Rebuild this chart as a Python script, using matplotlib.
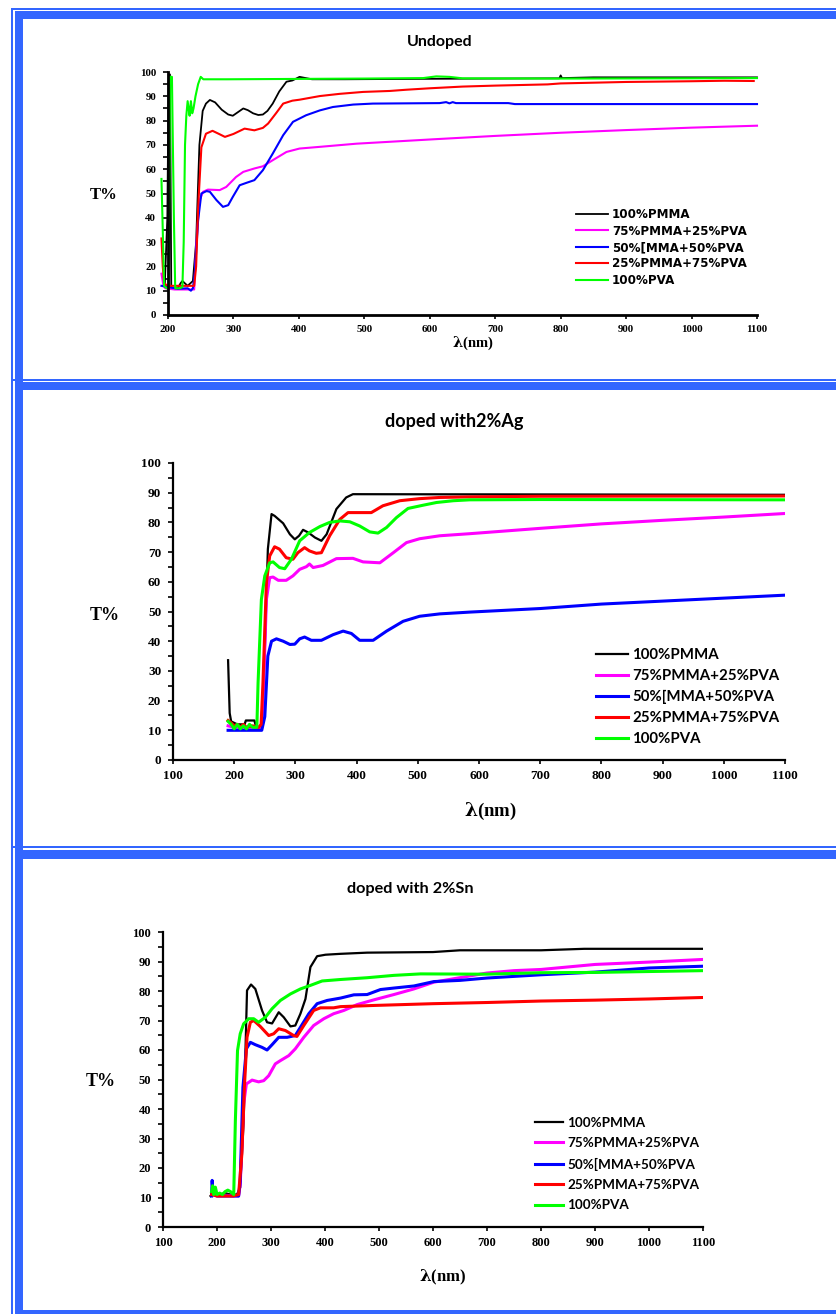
import numpy as np
import matplotlib
matplotlib.use("Agg")
import matplotlib.pyplot as plt
from matplotlib.patches import Rectangle
from matplotlib.ticker import MultipleLocator

# ---- series labels / colours ----
labels = ['100%PMMA', '75%PMMA+25%PVA', '50%[MMA+50%PVA', '25%PMMA+75%PVA', '100%PVA']
colors = ['#000000', '#ff00ff', '#0000ff', '#ff0000', '#00ff00']

# ---- undoped ----
u_wl_pmma = [195, 199, 201, 203, 205, 210, 215, 219, 222, 226, 230, 234, 238, 243, 248, 253, 258, 264, 272, 282,
             292, 299, 307, 315, 322, 330, 338, 345, 352, 360, 370, 381, 390, 401, 420, 470, 600, 700, 798, 800,
             802, 850, 1000, 1100]
u_T_pmma = [12, 40, 99, 99, 11, 11, 11, 13, 14, 13, 12, 13, 14, 30, 70, 84, 87, 88.5, 87.5, 84.5,
            82.5, 82, 83.5, 85, 84.3, 83, 82.3, 82.5, 84, 87, 92, 96, 96.5, 98, 97, 97, 97.2, 97.3, 97.4, 98.6,
            97.5, 97.8, 97.8, 97.8]
u_wl_75 = [190, 193, 196, 210, 240, 243, 248, 253.5, 261, 279, 289, 304, 315, 332, 345, 360, 381, 401, 432, 488,
           605, 700, 800, 900, 1000, 1100]
u_T_75 = [17, 12, 11, 10.5, 10.5, 28, 47, 50.7, 51.6, 51.4, 52.7, 56.8, 58.9, 60.3, 61.2, 63.7, 67.1, 68.5, 69.2, 70.5,
          72.3, 73.7, 75, 76.1, 77.1, 77.9]
u_wl_50 = [190, 200, 215, 230, 235, 238, 241, 246, 251, 259, 264, 274, 284, 292, 299, 309.5, 320, 332, 345, 360,
           376, 391, 411, 432, 452, 483, 513, 615, 625, 630, 635, 640, 720, 730, 1100]
u_T_50 = [12, 11.5, 10.8, 11, 10, 11, 17, 39, 50, 51, 50.7, 47.3, 44.5, 45.2, 48.6, 53.4, 54.4, 55.5, 59.6, 66.4,
          74, 79.5, 82.2, 84.2, 85.6, 86.6, 87, 87.2, 87.6, 87.1, 87.6, 87.2, 87.2, 86.8, 86.8]
u_wl_25 = [190, 192, 194, 200, 240, 243, 246, 251, 258, 268, 278, 287, 300, 317, 332, 345, 353, 365, 376, 390,
           401, 432, 462, 498, 539, 564, 600, 650, 700, 780, 800, 900, 1000, 1050, 1095]
u_T_25 = [31.5, 20, 13, 12, 12, 20, 44, 69, 74.6, 75.8, 74.5, 73.3, 74.5, 76.7, 76, 77, 78.8, 83, 87, 88.2,
          88.6, 90.1, 91, 91.8, 92.2, 92.7, 93.3, 94, 94.4, 94.9, 95.3, 95.9, 96.2, 96.4, 96.3]
u_wl_pva = [190, 192, 194, 198, 201, 203, 206, 209, 211, 218, 222, 224, 226, 228, 230, 232, 233, 235, 237, 239,
            242, 246, 250, 254, 290, 500, 590, 610, 630, 650, 800, 1000, 1100]
u_T_pva = [56, 35, 12, 11, 11, 98, 98, 40, 11, 11, 11.5, 30, 70, 82, 88, 84, 82, 88, 83, 85,
           90, 95, 98, 97, 97, 97.3, 97.5, 98.2, 98, 97.4, 97.3, 97.4, 97.5]

# ---- doped with 2% Ag ----
ag_wl_pmma = [190, 192.6, 195, 205, 217, 219, 233, 236, 245, 250, 255, 261, 266, 280, 291, 299, 306, 312.5, 321, 332,
              342.5, 351, 367, 383, 394, 1100]
ag_T_pmma = [33.6, 15.8, 13, 12, 12, 13.3, 13.3, 11, 11, 37, 71, 82.8, 82.2, 79.7, 76, 74.3, 75.5, 77.5, 76.6, 74.9,
             73.8, 76, 84.5, 88.4, 89.5, 89.3]
ag_wl_75 = [190, 200, 245, 248, 252.6, 258, 263.5, 272, 285, 296, 307, 318, 323, 329, 345, 367, 394, 410.6, 438, 460,
            481.5, 503, 536, 585, 700, 800, 900, 1000, 1100]
ag_T_75 = [11.5, 11, 11, 25, 54, 61.4, 61.6, 60.5, 60.5, 62, 64.2, 65.1, 66, 64.8, 65.5, 67.8, 67.9, 66.7, 66.4, 69.8,
           73.2, 74.5, 75.5, 76.2, 78, 79.5, 80.7, 81.8, 83]
ag_wl_50 = [190, 245, 250, 255, 261, 269, 280, 291, 299, 307, 315, 326, 342.5, 361.6, 378, 391.5, 405, 427, 449, 476,
            503, 536, 585, 700, 800, 900, 1000, 1100]
ag_T_50 = [10, 10, 14.6, 35, 40, 40.8, 40, 38.9, 39, 40.8, 41.4, 40.3, 40.3, 42.2, 43.4, 42.6, 40.3, 40.3, 43.4, 46.7,
           48.4, 49.2, 49.8, 51, 52.5, 53.5, 54.5, 55.5]
ag_wl_25 = [190, 195, 200, 205, 210, 215, 220, 230, 240, 244, 247, 252.6, 258, 266, 274, 285, 296, 304, 315, 323,
            334, 342.5, 356, 372.5, 386, 424, 443, 470.6, 503, 536, 585, 700, 1100]
ag_T_25 = [13.3, 12.5, 11.5, 12, 11, 12, 11, 11.5, 11, 12, 26, 59.7, 68.7, 71.8, 71, 68.1, 67.6, 69.8, 71.5, 70.4,
           69.6, 69.8, 75.5, 81, 83.3, 83.3, 85.6, 87.3, 88, 88.4, 88.6, 88.8, 88.9]
ag_wl_pva = [190, 195, 200, 205, 210, 215, 220, 225, 230, 237, 239, 244.4, 250, 258, 263.5, 274, 282.6, 293.5, 307, 323,
             340, 356, 372.5, 389, 405, 421.5, 435, 449, 465, 484, 509, 530.5, 558, 585, 700, 1100]
ag_T_pva = [13, 12, 10.5, 12, 10.5, 11.5, 10.5, 12, 11, 11, 26, 54, 62, 66.4, 66.7, 64.8, 64.4, 67.6, 73.8, 76.6,
            78.6, 80, 80.5, 80.2, 78.8, 76.8, 76.4, 78.3, 81.6, 84.7, 85.8, 86.7, 87.3, 87.6, 87.7, 87.6]

# ---- doped with 2% Sn ----
sn_wl_pmma = [188, 195, 205, 215, 225, 237, 243, 249.4, 255.6, 263, 271, 283.4, 292.7, 302, 314.3, 323.6, 336, 345, 354.5, 363.8,
              373, 385.4, 401, 428.7, 478, 600, 650, 800, 880, 1100]
sn_T_pmma = [10.5, 11.5, 11, 11.5, 11, 11, 13.4, 36, 80.2, 82.2, 80.7, 73.4, 69.4, 69, 72.8, 71.1, 68, 68.3, 72.3, 77.3,
             88.1, 91.8, 92.3, 92.6, 93, 93.2, 93.8, 93.8, 94.3, 94.3]
sn_wl_75 = [190, 240, 243, 249.4, 254.4, 265, 277, 286.5, 295.8, 308, 317.4, 332.9, 345, 360.7, 379, 397.8, 416, 434.8, 459.6, 490.5,
            527.6, 564.6, 601.7, 700, 750, 800, 900, 1000, 1100]
sn_T_75 = [11, 10.5, 14.5, 41.7, 48.5, 49.8, 49.2, 49.6, 51.3, 55.3, 56.4, 58.1, 60.4, 64.3, 68.3, 70.6, 72.3, 73.4, 75.4, 77,
           78.8, 80.7, 83, 86.1, 86.9, 87.3, 89, 89.8, 90.7]
sn_wl_50 = [190, 191, 193, 200, 240, 243, 248, 254.4, 261.8, 271, 283.4, 292.7, 302, 314.3, 329.8, 345, 354.5, 370, 385.4, 404,
            428.7, 453.4, 478, 502.8, 527.6, 564.6, 601.7, 650, 700, 800, 900, 1000, 1100]
sn_T_50 = [10.5, 15.8, 11, 10.5, 10.5, 15.6, 47.3, 60.4, 62.6, 61.8, 60.9, 60, 61.8, 64.3, 64.3, 64.9, 67.7, 72.3, 75.7, 76.8,
           77.6, 78.7, 78.8, 80.5, 81, 81.7, 83.2, 83.6, 84.4, 85.5, 86.4, 87.8, 88.4]
sn_wl_25 = [190, 200, 230, 240, 246, 250.7, 255.6, 261.8, 268, 280, 295.8, 305, 314.3, 326.7, 342, 348, 360.7, 379, 391.6, 416,
            428.7, 490.5, 600, 700, 800, 900, 1000, 1100]
sn_T_25 = [11, 10.5, 10.5, 11, 24.7, 47.3, 64.3, 69.4, 70, 68, 64.9, 65.5, 67.2, 66.6, 64.9, 64.6, 68.3, 73.4, 74.3, 74.3,
           74.7, 75.1, 75.7, 76.1, 76.6, 76.9, 77.3, 77.8]
sn_wl_pva = [190, 192, 194, 197, 200, 205, 210, 215, 220, 225, 231, 234, 238, 243, 249.4, 258.7, 268, 277, 289.6, 302,
             317.4, 336, 354.5, 373, 394.7, 428.7, 478, 527.6, 577, 700, 800, 900, 1000, 1100]
sn_T_pva = [12, 14, 11, 13.5, 11, 11.5, 11, 12, 12.5, 12, 11, 36, 59.8, 65.5, 68.9, 70.6, 70.6, 69.4, 71.1, 74,
            76.8, 79, 80.7, 81.9, 83.4, 83.9, 84.5, 85.3, 85.8, 85.7, 86.2, 86.3, 86.6, 86.9]

W, H = 836, 1314
fig = plt.figure(figsize=(W / 100, H / 100), dpi=100)
fig.patch.set_facecolor('white')

BLUE = '#3366ff'


def box(x0, y0, x1, y1):
    # pixel box (top-left origin) -> figure rect
    return [x0 / W, 1 - y1 / H, (x1 - x0) / W, (y1 - y0) / H]


def frame_rect(x0, y0, x1, y1):
    r = box(x0, y0, x1, y1)
    fig.patches.append(Rectangle((r[0], r[1]), r[2], r[3], transform=fig.transFigure,
                                 facecolor=BLUE, edgecolor='none', zorder=0))


# outer blue frame: thin line + thick band at the top/left of each panel
frame_rect(11, 8, 12.5, H)
frame_rect(15, 11, 23, H)
for (thin, t0, t1) in [(8, 11, 19), (379, 382, 390), (846, 850, 859)]:
    frame_rect(11, thin, W, thin + 1.5)
    frame_rect(15, t0, W, t1)
frame_rect(15, 1310, W, H)


def panel(px, xlim, series, title, title_xy, tsize, tick_size, lw, black_lw,
          tp_xy, tp_size, lam_xy, lam_size, leg, clip=True, spine_w=1.6):
    ax = fig.add_axes(box(*px))
    for (wl, T), c in zip(series, colors):
        ax.plot(wl, T, color=c, lw=black_lw if c == '#000000' else lw, clip_on=clip,
                solid_joinstyle='round')
    ax.set_xlim(*xlim)
    ax.set_ylim(0, 100)
    ax.xaxis.set_major_locator(MultipleLocator(100))
    ax.yaxis.set_major_locator(MultipleLocator(10))
    ax.yaxis.set_minor_locator(MultipleLocator(5))
    for s in ['top', 'right']:
        ax.spines[s].set_visible(False)
    for s in ['left', 'bottom']:
        ax.spines[s].set_linewidth(spine_w)
    ax.tick_params(axis='y', which='both', direction='out', length=3.5, width=1.2, pad=5)
    ax.tick_params(axis='x', which='major', direction='out', length=3, width=1.2, pad=4)
    for t in ax.get_xticklabels() + ax.get_yticklabels():
        t.set_fontfamily('Liberation Serif')
        t.set_fontweight('bold')
        t.set_fontsize(tick_size)
    fig.text(title_xy[0] / W, 1 - title_xy[1] / H, title, ha='center', va='center',
             family='Lato', weight='bold', fontsize=tsize)
    fig.text(tp_xy[0] / W, 1 - tp_xy[1] / H, 'T%', ha='center', va='center',
             family='Liberation Serif', weight='bold', fontsize=tp_size)
    fig.text(lam_xy[0] / W, 1 - lam_xy[1] / H, r'$\mathbf{\lambda}$(nm)', ha='center', va='center',
             family='Liberation Serif', weight='bold', fontsize=lam_size,
             math_fontfamily='dejavuserif')
    lx, ly, lfont, lsize, hlen, spacing = leg
    ax.legend(labels, loc='center left', bbox_to_anchor=(lx / W, 1 - ly / H),
              bbox_transform=fig.transFigure, frameon=False, borderpad=0, borderaxespad=0,
              handlelength=hlen, handletextpad=0.3, labelspacing=spacing,
              prop={'family': lfont, 'weight': 'bold', 'size': lsize})
    return ax


panel((168, 72, 757, 315), (200, 1100),
      [(u_wl_pmma, u_T_pmma), (u_wl_75, u_T_75), (u_wl_50, u_T_50), (u_wl_25, u_T_25), (u_wl_pva, u_T_pva)],
      'Undoped', (440, 42), 11.5, 7.8, 1.5, 1.3, (104, 195), 12, (473, 343), 10.5,
      (576, 247.5, 'DejaVu Sans', 8.6, 2.7, 0.28), clip=False, spine_w=2)

panel((173, 463, 785, 760), (100, 1100),
      [(ag_wl_pmma, ag_T_pmma), (ag_wl_75, ag_T_75), (ag_wl_50, ag_T_50), (ag_wl_25, ag_T_25), (ag_wl_pva, ag_T_pva)],
      'doped with2%Ag', (454, 422), 13, 9.5, 2.2, 1.6, (105, 616), 13, (490, 811), 13.5,
      (596, 697, 'Lato', 10.8, 2.1, 0.47))

panel((163, 932, 703, 1227), (100, 1100),
      [(sn_wl_pmma, sn_T_pmma), (sn_wl_75, sn_T_75), (sn_wl_50, sn_T_50), (sn_wl_25, sn_T_25), (sn_wl_pva, sn_T_pva)],
      'doped with 2%Sn', (410, 889), 11.7, 9, 2.2, 1.6, (101, 1082), 13, (443, 1277), 12,
      (535, 1164, 'Lato', 9.7, 2.1, 0.62))

fig.savefig('out.png', dpi=100)
